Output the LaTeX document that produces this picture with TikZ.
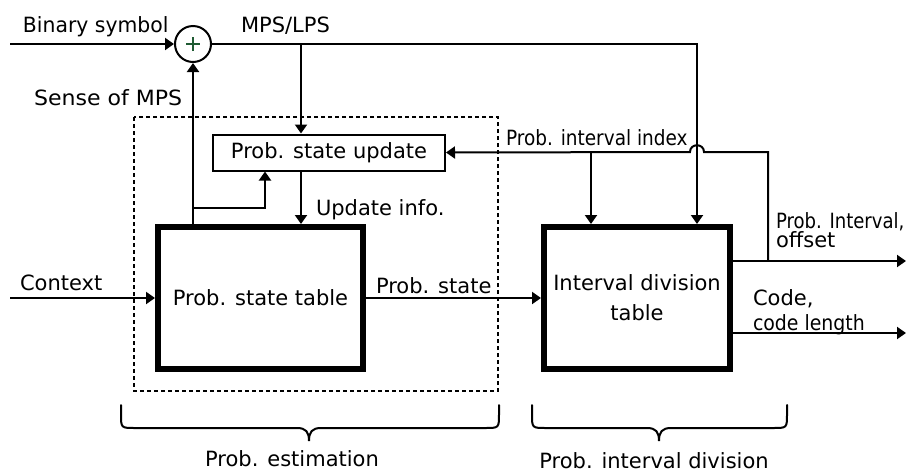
\documentclass[tikz,border=0pt]{standalone}
\usepackage{fontspec}
\usepackage{graphicx}
\setmainfont{DejaVu Sans}
\usetikzlibrary{arrows.meta}
\definecolor{plusgreen}{HTML}{1F5A32}
\newcommand{\narrowtext}[2]{\scalebox{#1}[1]{#2}}

\begin{document}
\begin{tikzpicture}[x=1pt,y=-1pt,
  line width=2pt,
  every node/.style={font=\fontsize{21}{25}\selectfont, inner sep=0pt},
  arr/.style={-{Triangle[length=9pt,width=12pt]}},
  lbl/.style={anchor=base west},
  clbl/.style={anchor=base},
  thickbox/.style={draw, rectangle, line width=6pt},
  thinbox/.style={draw, rectangle, line width=2pt},
  frame/.style={line width=2pt, dash pattern=on 4pt off 3pt},
  bracepath/.style={line width=2pt, line cap=round}
]
\useasboundingbox (0,0) rectangle (907,472);

% blocks
\node[thickbox, minimum width=205pt, minimum height=142pt] (pst) at (260.5,298) {Prob. state table};
\node[thickbox, minimum width=186pt, minimum height=142pt, align=center] (idt) at (637,298) {Interval division\\[5pt]table};
\node[thinbox, minimum width=232pt, minimum height=36pt] (psu) at (329,152.5) {Prob. state update};
\node[draw, circle, line width=2pt, minimum size=36pt] (add) at (193,44) {};
\draw[plusgreen, line width=1.2pt]
  ([xshift=-7pt]add.center) -- ([xshift=7pt]add.center)
  ([yshift=-7pt]add.center) -- ([yshift=7pt]add.center);

% probability estimation group
\draw[frame] (134,117) rectangle (498,391);

% helper points
\coordinate (bin) at (10,44);
\coordinate (mpsturn) at (697,44);
\coordinate (mpsfork) at (301,44);
\coordinate (ctx) at (10,298);
\coordinate (fbcorner) at (768,152);
\coordinate (out1) at (906,261);
\coordinate (out2) at (906,333);
\coordinate (updbend) at (265,208);
\coordinate (pidx) at (591,152);
\coordinate (hop) at (mpsturn |- fbcorner);

% connectors
\draw[arr] (bin) -- (add.west);
\draw[arr] (add.east) -- (mpsturn) -- (mpsturn |- idt.north);
\draw[arr] (mpsfork) -- (mpsfork |- psu.north);
\draw[arr] (add.south |- pst.north) -- (add.south);
\draw[arr] (add.south |- updbend) -- (updbend) -- (updbend |- psu.south);
\draw[arr] (psu.south -| mpsfork) -- (pst.north -| mpsfork);
\draw[arr] (ctx) -- (pst.west);
\draw[arr] (pst.east) -- (idt.west);
\draw[arr] (idt.east |- out1) -- (out1);
\draw[arr] (idt.east |- out2) -- (out2);
\draw[arr] (fbcorner |- out1) -- (fbcorner) -- ([xshift=7pt]hop)
  .. controls ([xshift=7pt,yshift=9pt]hop) and ([xshift=-7pt,yshift=9pt]hop) .. ([xshift=-7pt]hop)
  -- (psu.east);
\draw[arr] (pidx) -- (pidx |- idt.north);

% braces
\draw[bracepath] (121,405) -- (121,414) .. controls (121,428) .. (135,428) -- (297,428)
  .. controls (306,428) and (309,432) .. (309,441)
  .. controls (309,432) and (312,428) .. (321,428) -- (485,428)
  .. controls (499,428) .. (499,414) -- (499,405);
\draw[bracepath] (532,405) -- (532,414) .. controls (532,428) .. (546,428) -- (647,428)
  .. controls (656,428) and (659,432) .. (659,441)
  .. controls (659,432) and (662,428) .. (671,428) -- (773,428)
  .. controls (787,428) .. (787,414) -- (787,405);

% labels
\node[lbl] (lbin) at (22,32) {\narrowtext{0.97}{Binary symbol}};
\node[lbl] (lmps) at (240,32) {MPS/LPS};
\node[lbl] (lsense) at (33,105) {\narrowtext{1.05}{Sense of MPS}};
\node[lbl] (lidx) at (505,145) {\narrowtext{0.88}{Prob. interval index}};
\node[lbl] (lupd) at (315,215) {Update info.};
\node[lbl] (lctx) at (19,290) {Context};
\node[lbl] (lstate) at (375,293) {Prob. state};
\node[lbl] (lint) at (775,228) {\narrowtext{0.86}{Prob. Interval,}};
\node[lbl] (loff) at (775,247) {offset};
\node[lbl] (lcode) at (752,305) {Code,};
\node[lbl] (lclen) at (752,330) {\narrowtext{0.9}{code length}};
\node[clbl] (lest) at (292,466) {Prob. estimation};
\node[clbl] (ldiv) at (654,468) {Prob. interval division};
\end{tikzpicture}
\end{document}
